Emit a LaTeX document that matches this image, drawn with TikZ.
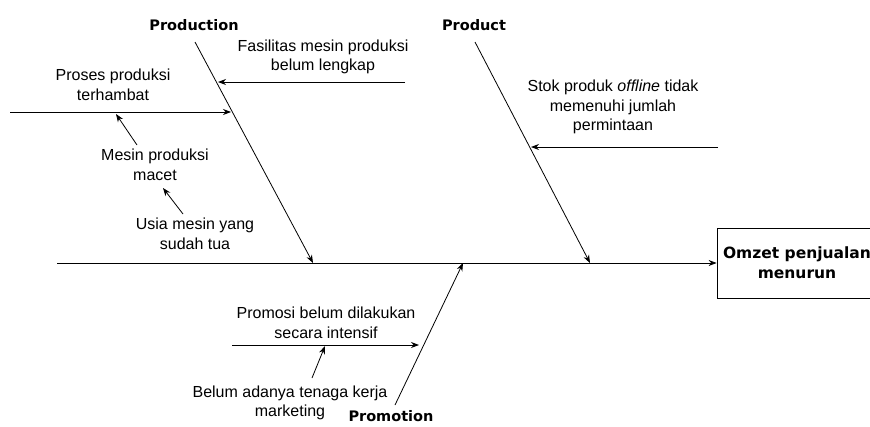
\documentclass[tikz,border=0pt]{standalone}
\usepackage{fontspec}
\setmainfont{Liberation Sans}
\newfontfamily\bonefont{DejaVu Sans}
\usetikzlibrary{arrows.meta}

\begin{document}
\begin{tikzpicture}[x=1pt,y=-1pt,
    cause/.style={align=center,font=\fontsize{16}{19.5}\selectfont,inner sep=0pt},
    bonelabel/.style={font=\bonefont\bfseries\fontsize{14.5}{17}\selectfont,inner sep=0pt},
    arr/.style={-{Stealth[length=8pt,width=6pt]},line width=0.8pt},
    line/.style={line width=0.8pt}]
  \clip (0,0) rectangle (870,426);
  % effect box and spine
  \node[draw,line width=0.8pt,minimum width=160pt,minimum height=70pt,align=center,
        font=\bonefont\bfseries\fontsize{15.5}{20}\selectfont] (effect) at (797,263) {Omzet penjualan\\menurun};
  \coordinate (spine) at (57,263);
  \draw[arr] (spine) -- (effect.west);

  % bones
  \coordinate (prodtop) at (195,42);
  \coordinate (prodhead) at (313,263);
  \coordinate (prtop) at (475,42);
  \coordinate (prhead) at (590,263);
  \coordinate (promtail) at (395,405);
  \coordinate (promhead) at (463,263);
  \draw[arr] (prodtop) -- (prodhead);
  \draw[arr] (prtop) -- (prhead);
  \draw[arr] (promtail) -- (promhead);
  \node[bonelabel] (production) at (194,25) {Production};
  \node[bonelabel] (product) at (474,25) {Product};
  \node[bonelabel] (promotion) at (391,416) {Promotion};

  % production causes
  \node[cause] (fasilitas) at (323,57) {Fasilitas mesin produksi\\belum lengkap};
  \coordinate (fas1) at (405,82);
  \coordinate (fas2) at (218,82);
  \draw[arr] (fas1) -- (fas2);
  \node[cause] (proses) at (113,85) {Proses produksi\\terhambat};
  \coordinate (pro1) at (10,112);
  \coordinate (pro2) at (231,112);
  \draw[arr] (pro1) -- (pro2);
  \node[cause] (mesin) at (155,165) {Mesin produksi\\macet};
  \coordinate (mes1) at (137,145);
  \coordinate (mes2) at (116,114);
  \draw[arr] (mes1) -- (mes2);
  \node[cause] (usia) at (195,234) {Usia mesin yang\\sudah tua};
  \coordinate (usi1) at (183,214);
  \coordinate (usi2) at (163,188);
  \draw[arr] (usi1) -- (usi2);

  % product causes
  \node[cause] (stok) at (613,107) {Stok produk \textit{offline} tidak\\memenuhi jumlah\\permintaan};
  \coordinate (sto1) at (718,147);
  \coordinate (sto2) at (531,147);
  \draw[arr] (sto1) -- (sto2);

  % promotion causes
  \node[cause] (promosi) at (326,323) {Promosi belum dilakukan\\secara intensif};
  \coordinate (psi1) at (232,345);
  \coordinate (psi2) at (419,345);
  \draw[arr] (psi1) -- (psi2);
  \node[cause] (belum) at (290,403) {Belum adanya tenaga kerja\\marketing};
  \coordinate (bel1) at (312,378);
  \coordinate (bel2) at (325,346);
  \draw[arr] (bel1) -- (bel2);
\end{tikzpicture}
\end{document}
